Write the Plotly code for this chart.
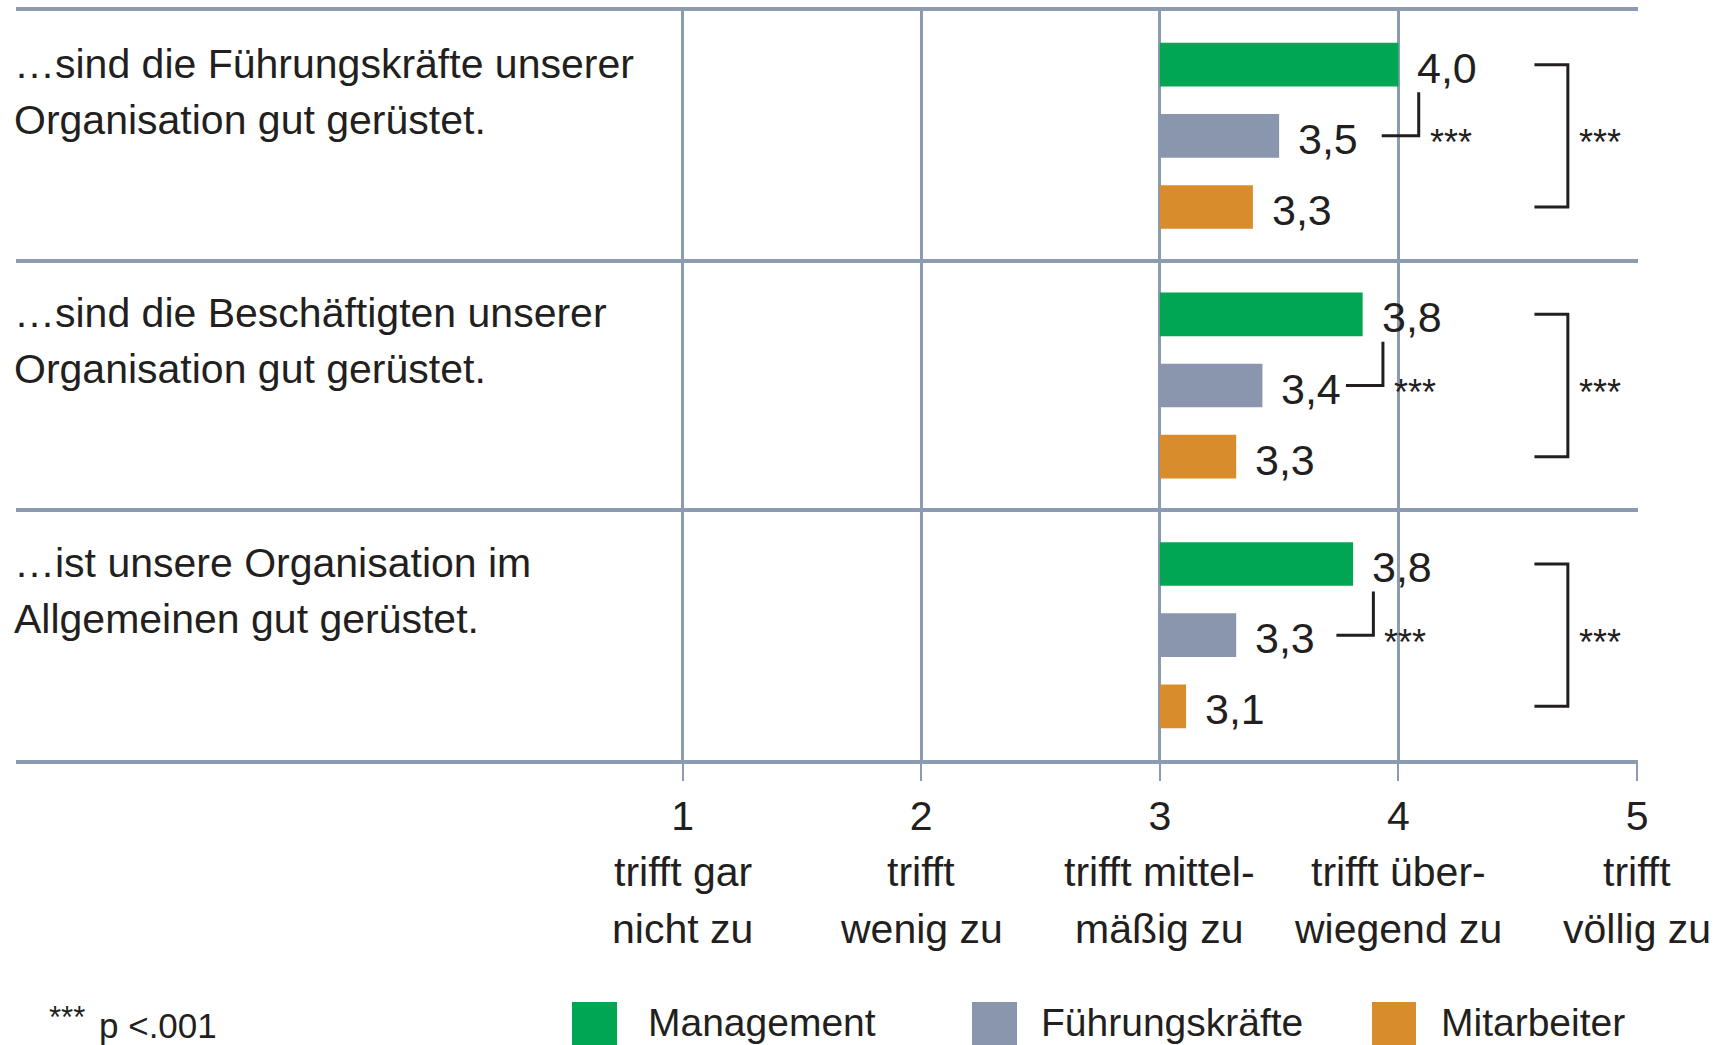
import plotly.graph_objects as go

# ---------------- data ----------------
categories = [
    "…sind die Führungskräfte unserer<br>Organisation gut gerüstet.",
    "…sind die Beschäftigten unserer<br>Organisation gut gerüstet.",
    "…ist unsere Organisation im<br>Allgemeinen gut gerüstet.",
]
series_names = ["Management", "Führungskräfte", "Mitarbeiter"]
management = [4.00, 3.85, 3.81]
fuehrungskraefte = [3.50, 3.43, 3.32]
mitarbeiter = [3.39, 3.32, 3.11]
management_labels = ["4,0", "3,8", "3,8"]
fuehrungskraefte_labels = ["3,5", "3,4", "3,3"]
mitarbeiter_labels = ["3,3", "3,3", "3,1"]
sig_mgmt_vs_fk = ["***", "***", "***"]
sig_overall = ["***", "***", "***"]
scale_values = [1, 2, 3, 4, 5]
scale_labels = ["trifft gar<br>nicht zu", "trifft<br>wenig zu", "trifft mittel-<br>mäßig zu",
                "trifft über-<br>wiegend zu", "trifft<br>völlig zu"]
footnote = "p <.001"

# ---------------- style ----------------
W, H = 1718, 1045
ML, MR, MT, MB = 16, 80, 11, 285
FONT = "Liberation Sans, Arial, sans-serif"
TXT = "#231f20"
GRID = "#8c9ab2"
colors = ["#00a651", "#8996ae", "#d98c2c"]
BASE = 3
BARGAP = 0.145
OFF = (1 - BARGAP) / 3  # centre offset of outer bars in a group
FS = 41

pw = W - ML - MR
ph = H - MT - MB


def px_x(px):
    return (px - ML) / pw


def px_y(py):
    return (H - MB - py) / ph


fig = go.Figure()
groups = list(range(len(categories)))
all_vals = [management, fuehrungskraefte, mitarbeiter]
all_labels = [management_labels, fuehrungskraefte_labels, mitarbeiter_labels]

for name, vals, col in zip(series_names, all_vals, colors):
    fig.add_trace(go.Bar(
        name=name, orientation="h", y=groups,
        x=[v - BASE for v in vals], base=BASE,
        marker=dict(color=col, line=dict(width=0)),
        showlegend=False, hoverinfo="skip",
    ))

annotations = []
shapes = []

# value labels
for k, (vals, labs) in enumerate(zip(all_vals, all_labels)):
    for g, (v, lab) in enumerate(zip(vals, labs)):
        annotations.append(dict(
            x=v, y=g + (k - 1) * OFF, xref="x", yref="y", text=lab,
            xanchor="left", yanchor="middle", xshift=17, yshift=-3, showarrow=False,
            font=dict(family=FONT, size=FS + 2, color=TXT)))

# category labels (two lines each)
for g, cat in enumerate(categories):
    for i, line in enumerate(cat.split("<br>")):
        annotations.append(dict(
            x=0, y=g - OFF, xref="paper", yref="y", text=line,
            xanchor="left", yanchor="middle", xshift=-4, yshift=-i * 56 + 1, showarrow=False,
            font=dict(family=FONT, size=FS, color=TXT)))

# scale descriptions under the tick numbers
for v, lab in zip(scale_values, scale_labels):
    for i, line in enumerate(lab.split("<br>")):
        annotations.append(dict(
            x=v, y=px_y(872 + i * 57), xref="x", yref="paper", text=line,
            xanchor="center", yanchor="middle", showarrow=False,
            font=dict(family=FONT, size=FS, color=TXT)))

# significance brackets
stars_font = dict(family=FONT, size=36, color=TXT)
for g in groups:
    xv = management[g] + 0.085
    xs = xv - 0.155
    shapes.append(dict(type="path", xref="x", yref="y",
                       path=f"M {xs},{g} L {xv},{g} L {xv},{g - 0.175}",
                       line=dict(color=TXT, width=3)))
    annotations.append(dict(x=xv, y=g, xref="x", yref="y", text=sig_mgmt_vs_fk[g],
                            xanchor="left", yanchor="middle", xshift=9, yshift=-7,
                            showarrow=False, font=stars_font))
    bx0, bx1 = 4.57, 4.71
    shapes.append(dict(type="path", xref="x", yref="y",
                       path=f"M {bx0},{g - OFF} L {bx1},{g - OFF} L {bx1},{g + OFF} L {bx0},{g + OFF}",
                       line=dict(color=TXT, width=3)))
    annotations.append(dict(x=bx1, y=g, xref="x", yref="y", text=sig_overall[g],
                            xanchor="left", yanchor="middle", xshift=9, yshift=-7,
                            showarrow=False, font=stars_font))

# legend (drawn manually)
leg_sq = [(572, 617), (972, 1017), (1372, 1416)]
leg_tx = [646, 1039, 1439]
for name, col, (a, b), t in zip(series_names, colors, leg_sq, leg_tx):
    shapes.append(dict(type="rect", xref="paper", yref="paper",
                       x0=px_x(a), x1=px_x(b), y0=px_y(1002), y1=px_y(1050),
                       fillcolor=col, line=dict(width=0)))
    annotations.append(dict(x=px_x(t), y=px_y(1022), xref="paper", yref="paper", text=name,
                            xanchor="left", yanchor="middle", showarrow=False,
                            font=dict(family=FONT, size=39, color=TXT)))

# footnote
annotations.append(dict(x=px_x(47), y=px_y(1017), xref="paper", yref="paper", text="***",
                        xanchor="left", yanchor="middle", showarrow=False,
                        font=dict(family=FONT, size=31, color=TXT)))
annotations.append(dict(x=px_x(97), y=px_y(1025), xref="paper", yref="paper", text=footnote,
                        xanchor="left", yanchor="middle", showarrow=False,
                        font=dict(family=FONT, size=35, color=TXT)))

x_left = 1 - (683 - ML) / ((1638 - 683) / 4)

fig.update_layout(
    width=W, height=H,
    margin=dict(l=ML, r=MR, t=MT, b=MB, autoexpand=False),
    paper_bgcolor="white", plot_bgcolor="white",
    barmode="group", bargap=BARGAP, bargroupgap=0.386,
    annotations=annotations, shapes=shapes, showlegend=False,
    font=dict(family=FONT, size=FS, color=TXT),
    xaxis=dict(
        range=[x_left, 5.004], tickvals=scale_values,
        ticktext=[str(v) for v in scale_values], tickangle=0,
        showgrid=True, gridcolor=GRID, gridwidth=3, zeroline=False,
        showline=True, linecolor=GRID, linewidth=4, mirror=True,
        ticks="outside", ticklen=17, tickwidth=2, tickcolor=GRID,
        ticklabelstandoff=0,
        tickfont=dict(family=FONT, size=FS, color=TXT), automargin=False,
        fixedrange=True,
    ),
    yaxis=dict(
        range=[2.5, -0.5], tickvals=[0.5, 1.5], showticklabels=False,
        showgrid=True, gridcolor=GRID, gridwidth=4, zeroline=False,
        showline=False, automargin=False, fixedrange=True,
    ),
)

fig.write_html("out.html", config={"displayModeBar": False},
               post_script="document.body.style.margin='0';document.body.style.overflow='hidden';")
